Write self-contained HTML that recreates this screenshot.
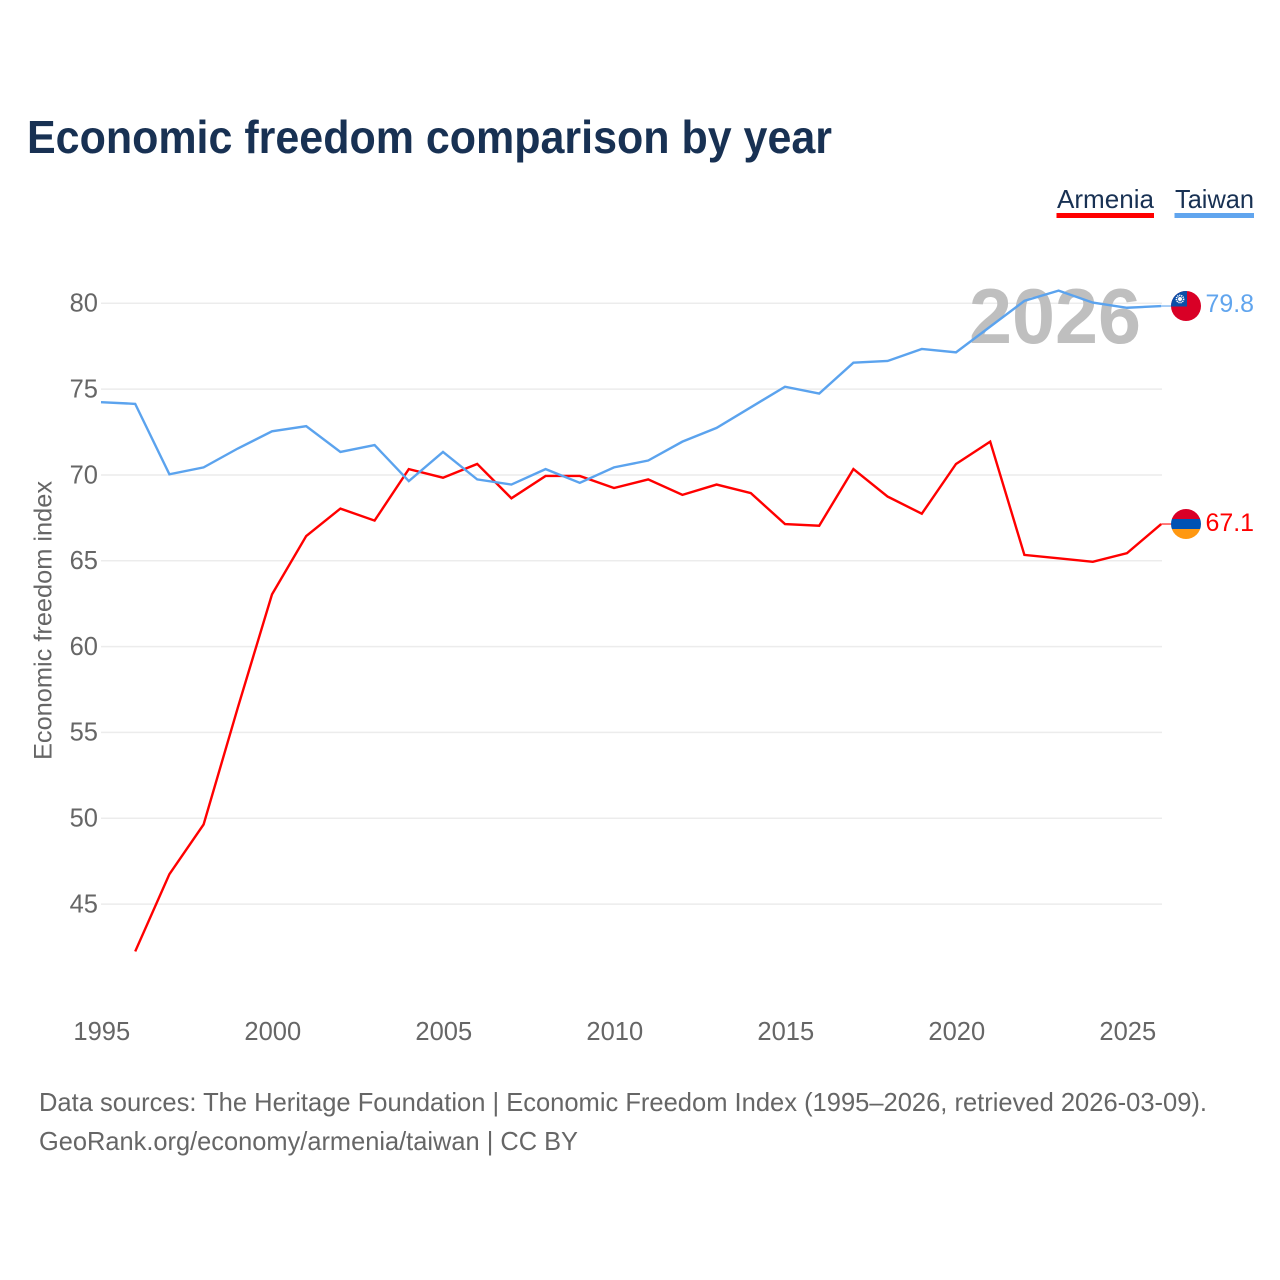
<!DOCTYPE html>
<html lang="en">
<head>
<meta charset="utf-8">
<title>Economic freedom comparison by year</title>
<style>
html,body{margin:0;padding:0;background:#fff;}
svg{display:block;font-family:"Liberation Sans",sans-serif;}
</style>
</head>
<body>
<svg id="chart" width="1280" height="1280" viewBox="0 0 1280 1280" xmlns="http://www.w3.org/2000/svg">
  <rect x="0" y="0" width="1280" height="1280" fill="#ffffff"/>
  <text x="27" y="153" font-size="46" font-weight="700" fill="#183153" textLength="805" lengthAdjust="spacingAndGlyphs">Economic freedom comparison by year</text>

  <g>
    <g>
      <text x="1057" y="208" font-size="26" fill="#183153" textLength="97" lengthAdjust="spacingAndGlyphs">Armenia</text>
      <rect x="1056.5" y="213" width="97.5" height="5" fill="#ff0000"/>
    </g>
    <g>
      <text x="1175" y="208" font-size="26" fill="#183153" textLength="79" lengthAdjust="spacingAndGlyphs">Taiwan</text>
      <rect x="1174.5" y="213" width="79.5" height="5" fill="#61a5ee"/>
    </g>
  </g>

  <g id="grid"></g>
  <g id="yticks"></g>
  <g id="xticks"></g>
  <text transform="translate(51.5 620.5) rotate(-90)" text-anchor="middle" font-size="25" fill="#666666" textLength="279" lengthAdjust="spacingAndGlyphs">Economic freedom index</text>

  <text x="969" y="343" font-size="78" font-weight="700" fill="#bfbfbf" textLength="172" lengthAdjust="spacingAndGlyphs">2026</text>

  <g id="series"></g>

  <defs>
    <clipPath id="taiwan-clip"><circle cx="1186" cy="306" r="15"/></clipPath>
    <clipPath id="armenia-clip"><circle cx="1186" cy="524" r="15"/></clipPath>
  </defs>

  <g clip-path="url(#taiwan-clip)">
    <rect x="1171" y="291" width="30" height="30" fill="#d90026"/>
    <rect x="1171" y="291" width="16" height="15.5" fill="#0a4fa8"/>
    <circle cx="1180" cy="299" r="3.6" fill="none" stroke="#ffffff" stroke-width="1.6" stroke-dasharray="1.2 0.8"/>
    <circle cx="1180" cy="299" r="2" fill="#ffffff"/>
  </g>
  <g clip-path="url(#armenia-clip)">
    <rect x="1171" y="509" width="30" height="10" fill="#d90026"/>
    <rect x="1171" y="519" width="30" height="10" fill="#0052b4"/>
    <rect x="1171" y="529" width="30" height="10" fill="#ff9811"/>
  </g>

  <text id="end-label-taiwan" x="1205.5" y="312" font-size="25" fill="#61a5ee" textLength="48.5" lengthAdjust="spacingAndGlyphs"></text>
  <text id="end-label-armenia" x="1205.5" y="531" font-size="25" fill="#ff0000" textLength="48.5" lengthAdjust="spacingAndGlyphs"></text>

  <text x="39" y="1111" font-size="26" fill="#666666" textLength="1168" lengthAdjust="spacingAndGlyphs">Data sources: The Heritage Foundation | Economic Freedom Index (1995–2026, retrieved 2026-03-09).</text>
  <a><text x="39" y="1150" font-size="26" fill="#666666" textLength="539" lengthAdjust="spacingAndGlyphs">GeoRank.org/economy/armenia/taiwan | CC BY</text></a>
</svg>

<script>
const years = [1995,1996,1997,1998,1999,2000,2001,2002,2003,2004,2005,2006,2007,2008,2009,2010,2011,2012,2013,2014,2015,2016,2017,2018,2019,2020,2021,2022,2023,2024,2025,2026];
const armeniaValues = [null,42.2,46.7,49.6,56.4,63.0,66.4,68.0,67.3,70.3,69.8,70.6,68.6,69.9,69.9,69.2,69.7,68.8,69.4,68.9,67.1,67.0,70.3,68.7,67.7,70.6,71.9,65.3,65.1,64.9,65.4,67.1];
const taiwanValues = [74.2,74.1,70.0,70.4,71.5,72.5,72.8,71.3,71.7,69.6,71.3,69.7,69.4,70.3,69.5,70.4,70.8,71.9,72.7,73.9,75.1,74.7,76.5,76.6,77.3,77.1,78.6,80.1,80.7,80.0,79.7,79.8];
const yTickLabels = [80,75,70,65,60,55,50,45];
const xTickLabels = [1995,2000,2005,2010,2015,2020,2025];

const NS = 'http://www.w3.org/2000/svg';
const xScale = function (year) { return 101 + (year - 1995) * 34.2; };
const yScale = function (value) { return 302.6 + (80 - value) * 17.165; };
const gridOffset = 0.7;
const gridLeft = 101;
const gridRight = 1162;

const grid = document.getElementById('grid');
const yticks = document.getElementById('yticks');
const xticks = document.getElementById('xticks');
const series = document.getElementById('series');

yTickLabels.forEach(function (tick) {
  const line = document.createElementNS(NS, 'line');
  
  
  line.setAttribute('x1', gridLeft);
  line.setAttribute('x2', gridRight);
  line.setAttribute('y1', yScale(tick) + gridOffset);
  line.setAttribute('y2', yScale(tick) + gridOffset);
  line.setAttribute('stroke', '#ececec');
  line.setAttribute('stroke-width', '1.5');
  grid.appendChild(line);

  const label = document.createElementNS(NS, 'text');
  
  
  label.setAttribute('x', 98);
  label.setAttribute('y', yScale(tick) + 9);
  label.setAttribute('text-anchor', 'end');
  label.setAttribute('font-size', '25.5');
  label.setAttribute('fill', '#666666');
  label.textContent = tick;
  yticks.appendChild(label);
});

xTickLabels.forEach(function (tick) {
  const label = document.createElementNS(NS, 'text');
  
  
  label.setAttribute('x', xScale(tick) + 0.8);
  label.setAttribute('y', 1040);
  label.setAttribute('text-anchor', 'middle');
  label.setAttribute('font-size', '25.5');
  label.setAttribute('fill', '#666666');
  label.textContent = tick;
  xticks.appendChild(label);
});

function buildPath(values) {
  let d = '';
  values.forEach(function (value, i) {
    if (value === null) { return; }
    d += (d === '' ? 'M' : 'L') + xScale(years[i]).toFixed(2) + ' ' + yScale(value).toFixed(2);
  });
  return d;
}

function lastValue(values) {
  return values[values.length - 1];
}

const armeniaLine = document.createElementNS(NS, 'path');


armeniaLine.setAttribute('d', buildPath(armeniaValues));
armeniaLine.setAttribute('fill', 'none');
armeniaLine.setAttribute('stroke', '#ff0000');
armeniaLine.setAttribute('stroke-width', '2.4');
armeniaLine.setAttribute('stroke-linejoin', 'miter');
series.appendChild(armeniaLine);

const taiwanLine = document.createElementNS(NS, 'path');


taiwanLine.setAttribute('d', buildPath(taiwanValues));
taiwanLine.setAttribute('fill', 'none');
taiwanLine.setAttribute('stroke', '#5ba3ee');
taiwanLine.setAttribute('stroke-width', '2.4');
taiwanLine.setAttribute('stroke-linejoin', 'miter');
series.appendChild(taiwanLine);

const armeniaConnector = document.createElementNS(NS, 'line');


armeniaConnector.setAttribute('x1', xScale(2026));
armeniaConnector.setAttribute('x2', 1172);
armeniaConnector.setAttribute('y1', yScale(lastValue(armeniaValues)));
armeniaConnector.setAttribute('y2', yScale(lastValue(armeniaValues)));
armeniaConnector.setAttribute('stroke', '#ff0000');
armeniaConnector.setAttribute('stroke-width', '1.5');
armeniaConnector.setAttribute('stroke-opacity', '0.7');
series.appendChild(armeniaConnector);

const taiwanConnector = document.createElementNS(NS, 'line');


taiwanConnector.setAttribute('x1', xScale(2026));
taiwanConnector.setAttribute('x2', 1172);
taiwanConnector.setAttribute('y1', yScale(lastValue(taiwanValues)));
taiwanConnector.setAttribute('y2', yScale(lastValue(taiwanValues)));
taiwanConnector.setAttribute('stroke', '#5ba3ee');
taiwanConnector.setAttribute('stroke-width', '1.5');
taiwanConnector.setAttribute('stroke-opacity', '0.7');
series.appendChild(taiwanConnector);

document.getElementById('end-label-taiwan').textContent = lastValue(taiwanValues).toFixed(1);
document.getElementById('end-label-armenia').textContent = lastValue(armeniaValues).toFixed(1);
</script>
</body>
</html>
